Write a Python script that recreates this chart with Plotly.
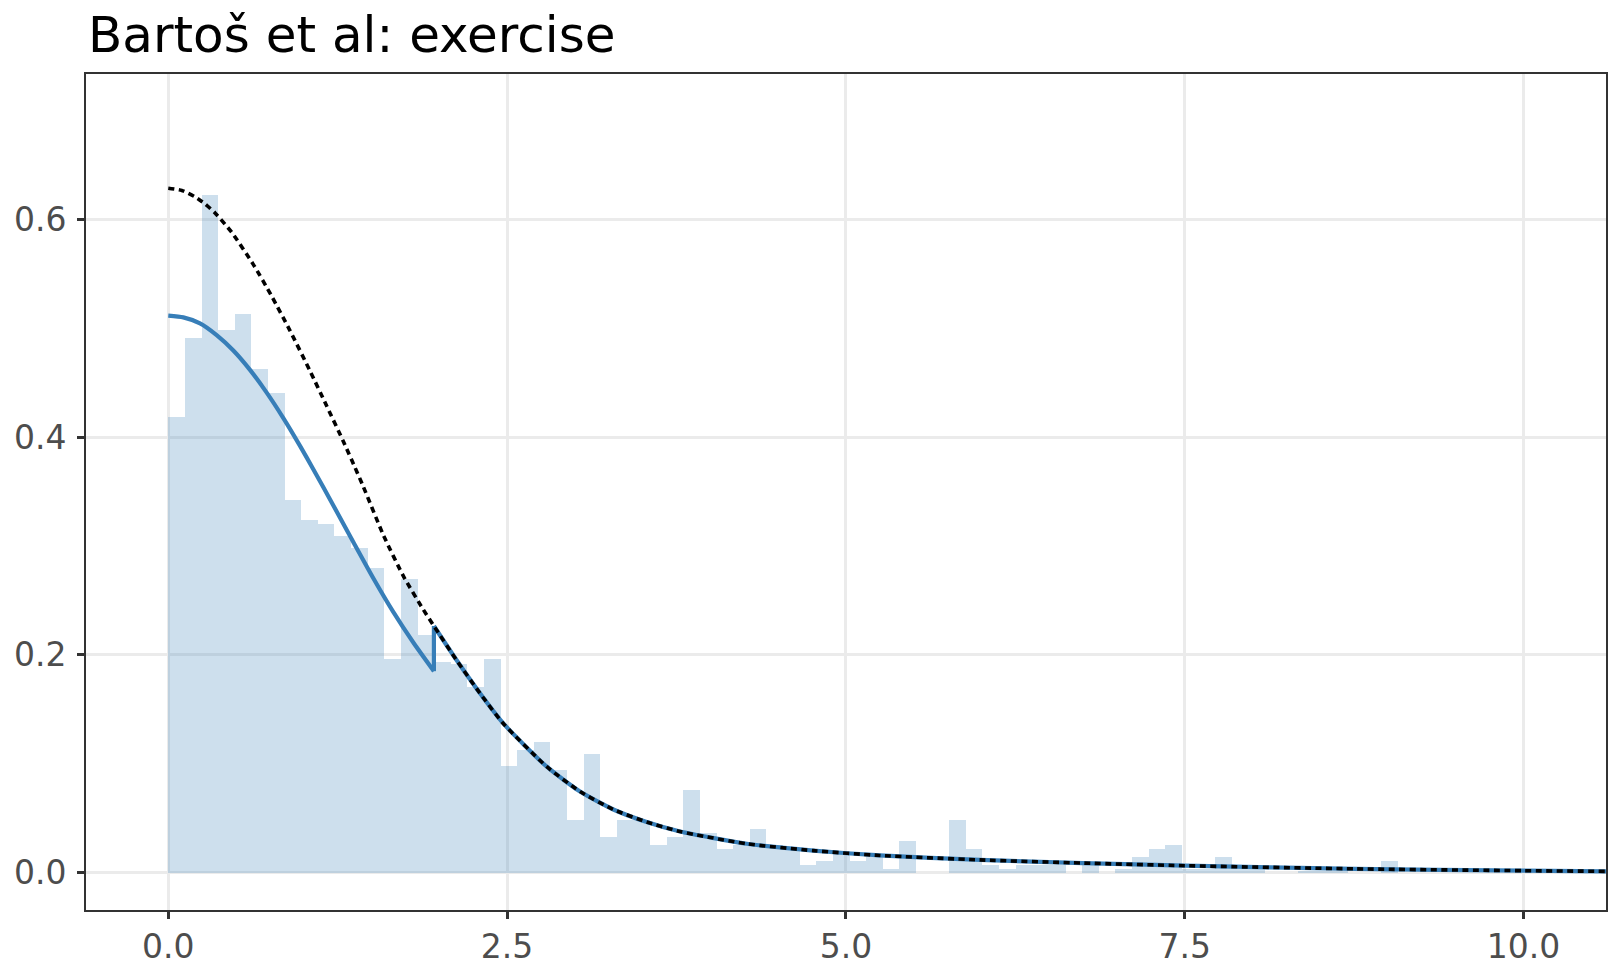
import plotly.graph_objects as go

# ---------------- data ----------------
bin_width = 0.1226
hist_density = [
    0.418, 0.491, 0.622, 0.498, 0.513, 0.4625, 0.4405, 0.342, 0.324, 0.320,
    0.309, 0.298, 0.280, 0.196, 0.270, 0.218, 0.193, 0.192, 0.1705, 0.196,
    0.098, 0.113, 0.120, 0.094, 0.048, 0.109, 0.033, 0.048, 0.048, 0.0255,
    0.033, 0.076, 0.036, 0.022, 0.025, 0.040, 0.025, 0.021, 0.007, 0.011,
    0.018, 0.011, 0.0145, 0.0036, 0.029, 0.0, 0.0, 0.048, 0.022, 0.007,
    0.0036, 0.007, 0.007, 0.007, 0.0, 0.0073, 0.0, 0.0036, 0.0145, 0.022,
    0.0255, 0.0036, 0.0036, 0.0145, 0.0036, 0.0036, 0.0, 0.0, 0.0018, 0.0018,
    0.0018, 0.0, 0.0, 0.011, 0.0, 0.0, 0.0, 0.0, 0.0, 0.0,
    0.0, 0.0, 0.0, 0.0, 0.0, 0.0, 0.0,
]

# blue (selection-adjusted) curve below the 1.96 cut-off
blue_low_x = [0.0, 0.111, 0.234, 0.357, 0.48, 0.603, 0.726, 0.849, 0.972, 1.07,
              1.218, 1.365, 1.513, 1.66, 1.808, 1.96]
blue_low_y = [0.5115, 0.5099, 0.5044, 0.4936, 0.4795, 0.4617, 0.4408, 0.4174, 0.3919, 0.3705,
              0.3372, 0.3037, 0.2704, 0.2395, 0.2114, 0.1850]

# dotted (unadjusted) curve below the cut-off
dashed_head_x = [0.0, 0.1, 0.197, 0.27, 0.345, 0.468, 0.627, 0.763, 0.898, 1.046, 1.169,
                 1.292, 1.378, 1.439, 1.587, 1.734, 1.882]
dashed_head_y = [0.6285, 0.6265, 0.6206, 0.6142, 0.6058, 0.588, 0.5586, 0.5294, 0.4977, 0.4607,
                 0.4285, 0.3960, 0.3720, 0.3545, 0.3100, 0.2725, 0.2415]

# shared tail above the cut-off
tail_x = [1.96, 2.128, 2.30, 2.472, 2.793, 3.038, 3.284, 3.53, 3.776, 4.268,
          4.76, 5.25, 5.99, 6.75, 7.5, 8.75, 10.0, 10.61]
tail_y = [0.2265, 0.195, 0.1647, 0.137, 0.0973, 0.0745, 0.0580, 0.0465, 0.0378, 0.0265,
          0.0202, 0.0158, 0.0117, 0.0088, 0.0064, 0.0035, 0.0018, 0.0012]

x_ticks = [0.0, 2.5, 5.0, 7.5, 10.0]
x_tick_labels = ["0.0", "2.5", "5.0", "7.5", "10.0"]
y_ticks = [0.0, 0.2, 0.4, 0.6]
y_tick_labels = ["0.0", "0.2", "0.4", "0.6"]
title_text = "Bartoš et al: exercise"

# ---------------- figure ----------------
blue = "#377EB8"
bar_x = [(i + 0.5) * bin_width for i in range(len(hist_density))]

fig = go.Figure()
fig.add_trace(go.Bar(
    x=bar_x, y=hist_density, width=bin_width,
    marker=dict(color="rgba(55,126,184,0.25)", line=dict(width=0)),
    hoverinfo="skip", showlegend=False,
))
fig.add_trace(go.Scatter(
    x=blue_low_x, y=blue_low_y, mode="lines",
    line=dict(color=blue, width=4.2, shape="spline", smoothing=0.6),
    showlegend=False,
))
fig.add_trace(go.Scatter(
    x=[blue_low_x[-1], tail_x[0]], y=[blue_low_y[-1], tail_y[0]], mode="lines",
    line=dict(color=blue, width=4.2),
    showlegend=False,
))
fig.add_trace(go.Scatter(
    x=tail_x, y=tail_y, mode="lines",
    line=dict(color=blue, width=4.2, shape="spline", smoothing=0.6),
    showlegend=False,
))
fig.add_trace(go.Scatter(
    x=dashed_head_x + tail_x, y=dashed_head_y + tail_y, mode="lines",
    line=dict(color="black", width=3.6, dash="6px,4.5px", shape="spline", smoothing=0.6),
    showlegend=False,
))

axis_common = dict(
    automargin=False,
    showgrid=True, gridcolor="#EBEBEB", gridwidth=3,
    zeroline=False,
    showline=True, linecolor="#333333", linewidth=1.6, mirror=True,
    ticks="outside", ticklen=7, tickwidth=3, tickcolor="#333333",
    tickfont=dict(family="DejaVu Sans", size=33, color="#4D4D4D"),
)

fig.update_layout(
    template="none",
    width=1620, height=972,
    margin=dict(l=86, r=14, t=74, b=62, autoexpand=False),
    paper_bgcolor="white", plot_bgcolor="white",
    bargap=0,
    title=dict(text=title_text, x=88 / 1620, xanchor="left",
               y=1 - 34 / 972, yanchor="middle",
               font=dict(family="DejaVu Sans", size=50, color="black")),
    xaxis=dict(range=[-0.607, 10.608], tickvals=x_ticks, ticktext=x_tick_labels,
               ticklabelstandoff=0, **axis_common),
    yaxis=dict(range=[-0.0343, 0.7334], tickvals=y_ticks, ticktext=y_tick_labels,
               ticklabelstandoff=4, **axis_common),
)

fig.write_html("out.html")
